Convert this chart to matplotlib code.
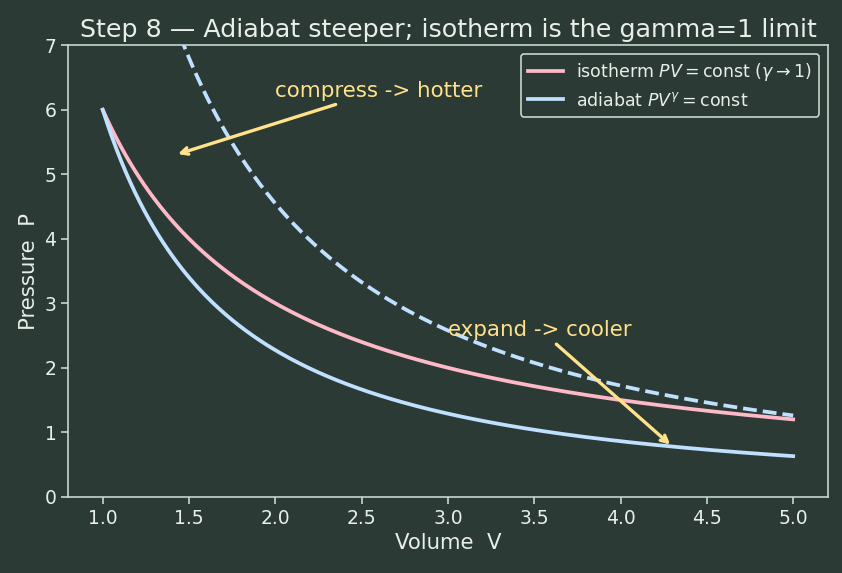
import numpy as np
import matplotlib
matplotlib.use("Agg")
import matplotlib.pyplot as plt

# curve parameters
v_start, v_end = 1.0, 5.0
p_start = 6.0          # both solid curves start at (1, 6)
gamma = 1.4            # adiabat exponent
k_hot = 12.0           # constant of the dashed (hotter) adiabat

x_ticks = [1.0, 1.5, 2.0, 2.5, 3.0, 3.5, 4.0, 4.5, 5.0]
y_ticks = [0, 1, 2, 3, 4, 5, 6, 7]

bg = '#2b3a34'
fg = '#e8efe9'
spine = '#c5d8cc'
pink = '#ffb8c8'
blue = '#bfe0ff'
yellow = '#ffe28a'

V = np.linspace(v_start, v_end, 300)
P_iso = p_start / V
P_adi = p_start * V ** (-gamma)
P_hot = k_hot * V ** (-gamma)

fig, ax = plt.subplots(figsize=(8.42, 5.73), dpi=100)
fig.patch.set_facecolor(bg)
ax.set_facecolor(bg)

ax.plot(V, P_iso, color=pink, lw=2.7, label=r'isotherm $PV=\mathrm{const}$ ($\gamma\to 1$)')
ax.plot(V, P_adi, color=blue, lw=2.7, label=r'adiabat $PV^{\gamma}=\mathrm{const}$')
ax.plot(V, P_hot, color=blue, lw=2.7, ls='--')

ax.set_ylim(0, 7)
ax.set_xticks(x_ticks)
ax.set_yticks(y_ticks)
ax.set_title('Step 8 — Adiabat steeper; isotherm is the gamma=1 limit', color=fg, fontsize=18.3)
ax.set_xlabel('Volume  V', color=fg, fontsize=15.3)
ax.set_ylabel('Pressure  P', color=fg, fontsize=15.3)
ax.tick_params(colors=fg, labelsize=13.5, length=5, width=1.2)
ax.tick_params(axis='both', color=spine)
for s in ax.spines.values():
    s.set_color(spine)
    s.set_linewidth(1.2)

ax.annotate('compress -> hotter', xy=(1.42, 5.3), xytext=(2.0, 6.2),
            color=yellow, fontsize=15.4,
            arrowprops=dict(arrowstyle='->', color=yellow, lw=2.4, mutation_scale=12))
ax.annotate('expand -> cooler', xy=(4.3, 0.78), xytext=(3.0, 2.5),
            color=yellow, fontsize=15.4,
            arrowprops=dict(arrowstyle='->', color=yellow, lw=2.4, mutation_scale=12))

leg = ax.legend(loc='upper right', fontsize=12.5, facecolor=bg, edgecolor=spine, framealpha=1)
leg.get_frame().set_linewidth(1.2)
for t in leg.get_texts():
    t.set_color(fg)

fig.subplots_adjust(left=0.081, right=0.983, top=0.921, bottom=0.133)
fig.savefig('out.png', dpi=100, facecolor=bg)
